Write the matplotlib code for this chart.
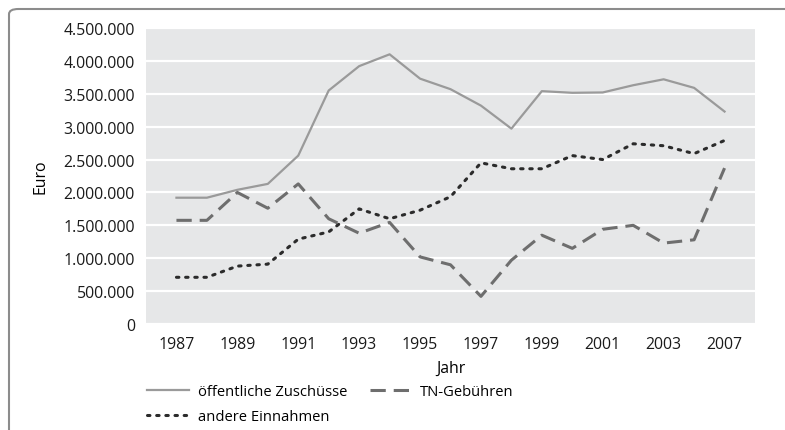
import matplotlib.pyplot as plt
from matplotlib.patches import FancyBboxPatch
from matplotlib.ticker import FuncFormatter, MultipleLocator

plt.rcParams['font.family'] = ['Open Sans', 'DejaVu Sans']

years = ['1987', '1988', '1989', '1990', '1991', '1992', '1993', '1994', '1995',
         '1996', '1997', '1998', '1999', '2000', '2001', '2002', '2003', '2005', '2007']
zuschuesse = [1920000, 1920000, 2040000, 2130000, 2560000, 3550000, 3920000, 4100000,
              3730000, 3570000, 3320000, 2970000, 3540000, 3515000, 3520000, 3630000,
              3720000, 3590000, 3230000]
tn_gebuehren = [1576000, 1576000, 2000000, 1760000, 2130000, 1600000, 1380000, 1545000,
                1020000, 900000, 420000, 970000, 1350000, 1150000, 1440000, 1500000,
                1230000, 1280000, 2370000]
andere = [710000, 710000, 880000, 910000, 1290000, 1400000, 1750000, 1600000, 1730000,
          1935000, 2450000, 2360000, 2360000, 2560000, 2500000, 2740000, 2710000,
          2590000, 2790000]

fig = plt.figure(figsize=(7.85, 4.31), dpi=100)

# rounded frame around the whole thing
frame = FancyBboxPatch((9 / 785, -0.1), 1.2, 1.1 - 10 / 431,
                       boxstyle='round,pad=0,rounding_size=0.012',
                       transform=fig.transFigure, fill=False,
                       edgecolor='#8c8c8c', linewidth=1.5)
fig.patches.append(frame)

ax = fig.add_axes([146 / 785, 106 / 431, 609 / 785, 296 / 431])
ax.set_facecolor('#e6e7e8')
x = list(range(len(years)))

l1, = ax.plot(x, zuschuesse, color='#9a9a9a', lw=1.6, label='öffentliche Zuschüsse')
l2, = ax.plot(x, tn_gebuehren, color='#6e6e6e', lw=2.2, dashes=(5, 2.6), label='TN-Gebühren')
l3, = ax.plot(x, andere, color='#2b2b2b', lw=2.2, dashes=(0.8, 2.2),
              dash_capstyle='round', label='andere Einnahmen')

ax.set_xlim(-1, len(years))
ax.set_ylim(0, 4500000)
ax.yaxis.set_major_locator(MultipleLocator(500000))
ax.yaxis.set_major_formatter(FuncFormatter(lambda v, p: f'{int(v):,}'.replace(',', '.')))
ax.set_xticks(x[::2])
ax.set_xticklabels(years[::2])
ax.grid(axis='y', color='white', lw=1.6)
ax.set_axisbelow(True)
for s in ax.spines.values():
    s.set_visible(False)
ax.tick_params(length=0, labelsize=11.4, colors='#1a1a1a')
ax.tick_params(axis='x', pad=9)
ax.tick_params(axis='y', pad=8)

ax.set_ylabel('Euro', fontsize=11.4, labelpad=11)
ax.set_xlabel('Jahr', fontsize=11.4, labelpad=5)

fig.legend([l1, l3, l2], ['öffentliche Zuschüsse', 'andere Einnahmen', 'TN-Gebühren'],
           ncol=2, loc='upper left', bbox_to_anchor=(134 / 785, 1 - 372 / 431),
           frameon=False, fontsize=10.6, handlelength=2.85, columnspacing=1.5,
           labelspacing=0.65, handletextpad=0.6)

fig.savefig('out.png', dpi=100)
